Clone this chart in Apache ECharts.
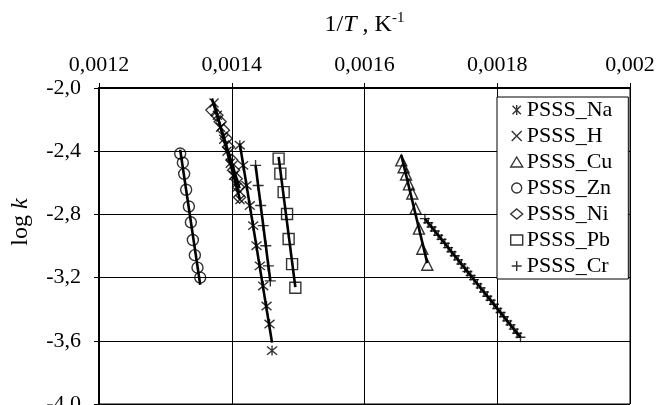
<!DOCTYPE html>
<html>
<head>
<meta charset="utf-8">
<script src="https://cdn.jsdelivr.net/npm/echarts@6/dist/echarts.min.js"></script>
<style>
  html, body { margin: 0; padding: 0; background: #fff; }
  #chart { width: 661px; height: 405px; }
</style>
</head>
<body>
<div id="chart"></div>
<script>
// tick labels
var xTickLabels = ['0,0012', '0,0014', '0,0016', '0,0018', '0,002']
var yTickLabels = ['-4,0', '-3,6', '-3,2', '-2,8', '-2,4', '-2,0']

// 1/T (K-1) and log k
var naX = [0.0014121, 0.0014172, 0.0014222, 0.0014272, 0.0014323, 0.0014373, 0.0014423, 0.0014474, 0.0014524, 0.0014569, 0.0014607]
var naY = [-2.362, -2.490, -2.617, -2.744, -2.871, -2.998, -3.126, -3.253, -3.380, -3.494, -3.662]

var hX = [0.0013733, 0.0013783, 0.0013831, 0.0013879, 0.0013929, 0.0013977, 0.0014027, 0.0014075, 0.0014124]
var hY = [-2.095, -2.172, -2.248, -2.324, -2.401, -2.477, -2.553, -2.630, -2.706]

var cuX = [0.0016554, 0.0016589, 0.0016626, 0.0016669, 0.0016720, 0.0016770, 0.0016820, 0.0016871, 0.0016946]
var cuY = [-2.458, -2.502, -2.547, -2.610, -2.668, -2.763, -2.890, -3.017, -3.119]

var znX = [0.0013223, 0.0013263, 0.0013283, 0.0013313, 0.0013354, 0.0013384, 0.0013414, 0.0013444, 0.0013484, 0.0013525]
var znY = [-2.415, -2.473, -2.543, -2.644, -2.750, -2.850, -2.962, -3.058, -3.137, -3.200]

var niX = [0.0013701, 0.0013777, 0.0013826, 0.0013876, 0.0013917, 0.0013951, 0.0014003, 0.0014027, 0.0014068, 0.0014103, 0.0014118]
var niY = [-2.140, -2.172, -2.214, -2.267, -2.320, -2.373, -2.458, -2.521, -2.574, -2.628, -2.691]

var pbX = [0.0014706, 0.0014732, 0.0014782, 0.0014833, 0.0014857, 0.0014909, 0.0014958]
var pbY = [-2.447, -2.542, -2.659, -2.797, -2.956, -3.115, -3.264]

var crX = [0.0014359, 0.0014398, 0.0014436, 0.0014475, 0.0014513, 0.0014552, 0.0014581]
var crY = [-2.490, -2.617, -2.744, -2.871, -2.998, -3.126, -3.221]

var cr2X = [0.001691, 0.001696, 0.001701, 0.001706, 0.001711, 0.001716, 0.001721, 0.001726, 0.001731, 0.001736,
  0.001741, 0.001746, 0.001751, 0.001755, 0.001760, 0.001765, 0.001770, 0.001775, 0.001780, 0.001785,
  0.001790, 0.001795, 0.001800, 0.001805, 0.001810, 0.001815, 0.001820, 0.001825, 0.001830, 0.001835]
var cr2Y = [-2.827, -2.853, -2.880, -2.905, -2.932, -2.958, -2.983, -3.010, -3.036, -3.062,
  -3.088, -3.114, -3.140, -3.161, -3.187, -3.213, -3.240, -3.265, -3.291, -3.318,
  -3.343, -3.369, -3.396, -3.421, -3.448, -3.474, -3.499, -3.526, -3.552, -3.578]

var FONT = '"Liberation Serif", "Times New Roman", serif'
var SYM_STAR = 'path://M0,0L10,10M10,0L0,10M5,-1L5,11'
var SYM_X = 'path://M0,0L10,10M10,0L0,10'
var SYM_PLUS = 'path://M5,0L5,10M0,5L10,5'

function zip(xs, ys) {
  return xs.map(function (x, i) { return [x, ys[i]] })
}

// linear trendline over the x-range of the data (like Excel)
function trend(xs, ys) {
  var n = xs.length, sx = 0, sy = 0, sxx = 0, sxy = 0
  for (var i = 0; i < n; i++) {
    sx += xs[i]; sy += ys[i]; sxx += xs[i] * xs[i]; sxy += xs[i] * ys[i]
  }
  var b = (n * sxy - sx * sy) / (n * sxx - sx * sx)
  var a = (sy - b * sx) / n
  var lo = Math.min.apply(null, xs), hi = Math.max.apply(null, xs)
  return [[lo, a + b * lo], [hi, a + b * hi]]
}

function pts(name, xs, ys, symbol, size) {
  return {
    name: name,
    type: 'scatter',
    symbol: symbol,
    symbolSize: size,
    data: zip(xs, ys),
    itemStyle: { color: 'rgba(0,0,0,0)', borderColor: '#000', borderWidth: 1.4 },
    emphasis: { disabled: true },
    z: 3
  }
}

function line(xs, ys) {
  return {
    type: 'line',
    data: trend(xs, ys),
    showSymbol: false,
    silent: true,
    lineStyle: { color: '#000', width: 2.6 },
    z: 2
  }
}

var chart = echarts.init(document.getElementById('chart'), null, { renderer: 'canvas' })
chart.setOption({
  animation: false,
  backgroundColor: '#fff',
  textStyle: { fontFamily: FONT, color: '#000' },
  grid: {
    left: 99, right: 31, top: 88, bottom: 1,
    outerBoundsMode: 'none',
    show: true, borderColor: '#000', borderWidth: 1
  },
  legend: {
    data: ['PSSS_Na', 'PSSS_H', 'PSSS_Cu', 'PSSS_Zn', 'PSSS_Ni', 'PSSS_Pb', 'PSSS_Cr'],
    orient: 'vertical',
    left: 497,
    top: 97,
    padding: [0, 16, 0, 13],
    itemGap: 0,
    itemWidth: 12,
    itemHeight: 10,
    itemStyle: { color: 'rgba(0,0,0,0)', borderColor: '#000', borderWidth: 1.4 },
    textStyle: { fontFamily: FONT, fontSize: 22, color: '#000', lineHeight: 26, padding: [0, 0, 0, -1] },
    backgroundColor: '#fff',
    borderColor: '#000',
    borderWidth: 1,
    borderRadius: 0,
    selectedMode: false
  },
  xAxis: {
    type: 'value',
    position: 'top',
    min: 0.0012,
    max: 0.002,
    interval: 0.0002,
    name: '{a|1/}{i|T}{a| , K}{s|-1}',
    nameLocation: 'middle',
    nameGap: 50,
    nameTextStyle: {
      rich: {
        a: { fontFamily: FONT, fontSize: 24, color: '#000' },
        i: { fontFamily: FONT, fontSize: 24, fontStyle: 'italic', color: '#000' },
        s: { fontFamily: FONT, fontSize: 15, color: '#000', padding: [0, 0, 12, 0] }
      }
    },
    axisLine: { show: true, lineStyle: { color: '#000', width: 2 } },
    axisTick: { show: true, inside: false, length: 5, lineStyle: { color: '#000', width: 1 } },
    axisLabel: {
      margin: 12,
      fontFamily: FONT,
      fontSize: 22,
      color: '#000',
      showMinLabel: true,
      showMaxLabel: true,
      hideOverlap: false,
      formatter: function (v) { return xTickLabels[Math.round((v - 0.0012) / 0.0002)] }
    },
    splitLine: { show: true, lineStyle: { color: '#000', width: 1 } }
  },
  yAxis: {
    type: 'value',
    min: -4,
    max: -2,
    interval: 0.4,
    name: '{a|log }{i|k}',
    nameLocation: 'middle',
    nameGap: 66,
    nameRotate: 90,
    nameTextStyle: {
      padding: [0, 0, 0, 48],
      rich: {
        a: { fontFamily: FONT, fontSize: 24, color: '#000' },
        i: { fontFamily: FONT, fontSize: 24, fontStyle: 'italic', color: '#000' }
      }
    },
    axisLine: { show: true, lineStyle: { color: '#000', width: 2 } },
    axisTick: { show: true, inside: false, length: 5, lineStyle: { color: '#000', width: 1 } },
    axisLabel: {
      margin: 18,
      fontFamily: FONT,
      fontSize: 22,
      color: '#000',
      showMinLabel: true,
      showMaxLabel: true,
      formatter: function (v) { return yTickLabels[Math.round((v + 4) / 0.4)] }
    },
    splitLine: { show: true, lineStyle: { color: '#000', width: 1 } }
  },
  series: [
    pts('PSSS_Na', naX, naY, SYM_STAR, 10),
    pts('PSSS_H', hX, hY, SYM_X, 9),
    pts('PSSS_Cu', cuX, cuY, 'triangle', 11),
    pts('PSSS_Zn', znX, znY, 'circle', 11),
    pts('PSSS_Ni', niX, niY, 'diamond', 12),
    pts('PSSS_Pb', pbX, pbY, 'rect', 11),
    pts('PSSS_Cr', crX, crY, SYM_PLUS, 11),
    pts('PSSS_Cr', cr2X, cr2Y, SYM_PLUS, 10),
    line(naX, naY),
    line(hX, hY),
    line(cuX, cuY),
    line(znX, znY),
    line(niX, niY),
    line(pbX, pbY),
    line(crX, crY),
    line(cr2X, cr2Y)
  ]
})
</script>
</body>
</html>
